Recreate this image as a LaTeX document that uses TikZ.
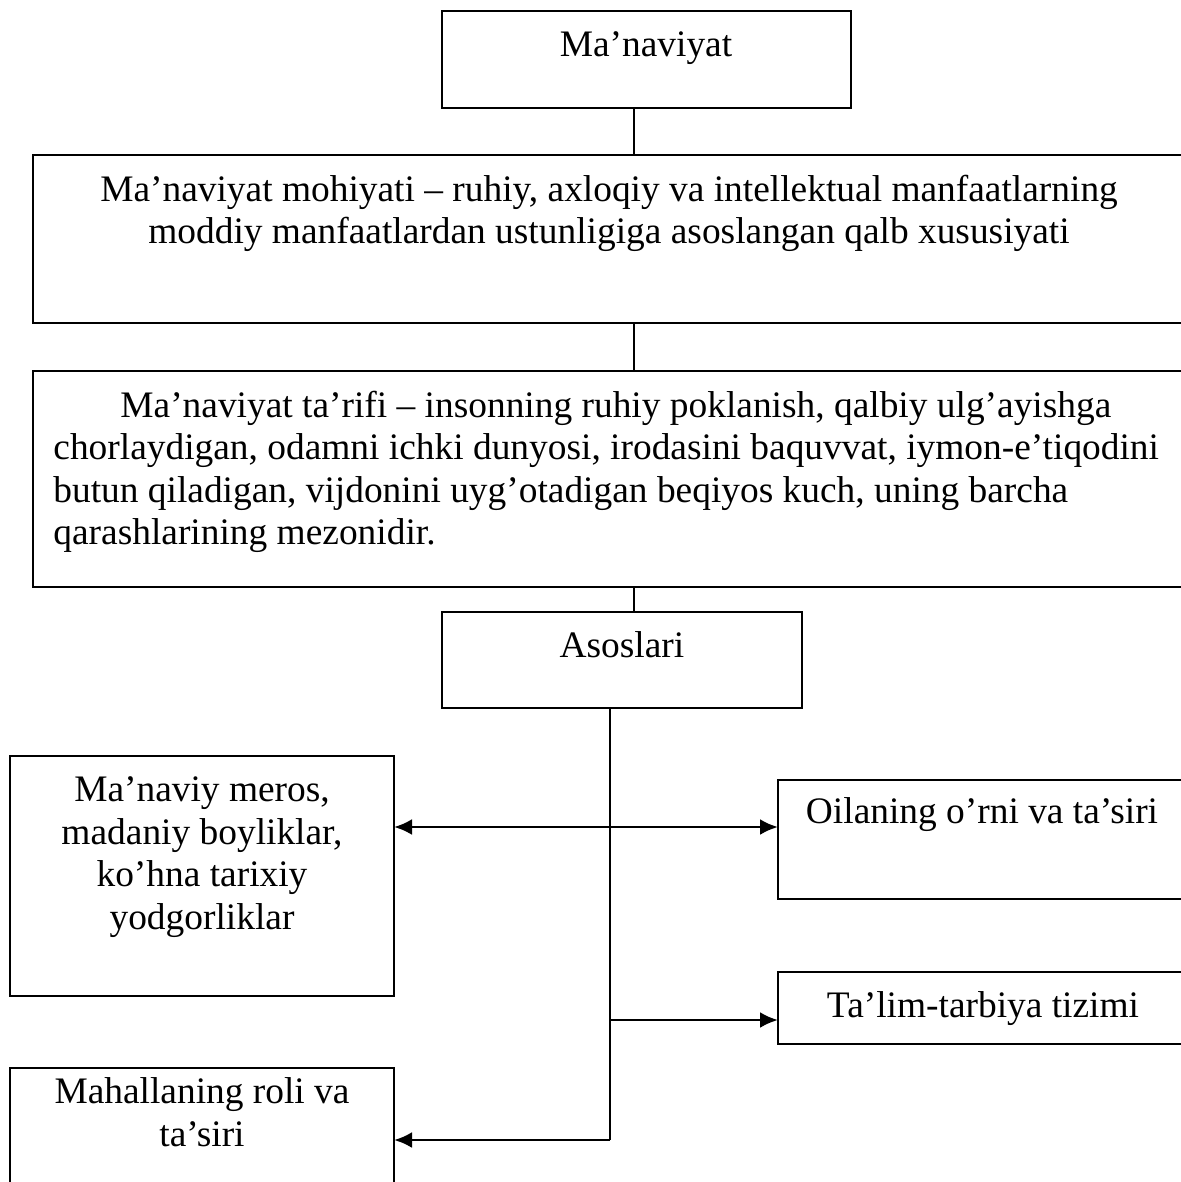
\documentclass[tikz,border=0pt]{standalone}
\usepackage{fontspec}
\setmainfont{Liberation Serif}
\usetikzlibrary{positioning,arrows.meta,calc}

\begin{document}
\begin{tikzpicture}[x=0.5pt,y=-0.5pt,
		box/.style={draw,line width=1pt,inner sep=0,outer sep=0,anchor=north west},
		txt/.style={inner sep=0,font=\fontsize{18.7}{21.25}\selectfont},
		con/.style={line width=0.8pt},
		arr/.style={line width=1.4pt,-{Latex[length=9pt,width=8pt]}},
		darr/.style={line width=1.4pt,{Latex[length=9pt,width=8pt]}-{Latex[length=9pt,width=8pt]}}]
		\useasboundingbox (0,0) rectangle (1181,1182);
		%boxes
		\node[box,minimum width=204.5pt,minimum height=48.5pt] (man) at (442,11) {};
		\node[box,minimum width=576pt,minimum height=84pt] (moh) at (33,155) {};
		\node[box,minimum width=576pt,minimum height=108pt] (tar) at (33,371) {};
		\node[box,minimum width=180pt,minimum height=48pt] (aso) at (442,612) {};
		\node[box,minimum width=192pt,minimum height=120pt] (mer) at (10,756) {};
		\node[box,minimum width=205pt,minimum height=59.5pt] (oil) at (778,780) {};
		\node[box,minimum width=205pt,minimum height=36pt] (tal) at (778,972) {};
		\node[box,minimum width=192pt,minimum height=70pt] (mah) at (10,1068) {};
		%texts
		\node[txt,anchor=base] (t-man) at (646,57) {Ma’naviyat};
		\node[txt,anchor=north,align=center] (t-moh) at (609,174.5) {Ma’naviyat mohiyati – ruhiy, axloqiy va intellektual manfaatlarning\\moddiy manfaatlardan ustunligiga asoslangan qalb xususiyati};
		\node[txt,anchor=north west,align=left] (t-tar) at (53,390.5) {\hspace*{33.5pt}Ma’naviyat ta’rifi – insonning ruhiy poklanish, qalbiy ulg’ayishga\\chorlaydigan, odamni ichki dunyosi, irodasini baquvvat, iymon-e’tiqodini\\butun qiladigan, vijdonini uyg’otadigan beqiyos kuch, uning barcha\\qarashlarining mezonidir.};
		\node[txt,anchor=base] (t-aso) at (622,657) {Asoslari};
		\node[txt,anchor=north,align=center] (t-mer) at (202,776.5) {Ma’naviy meros,\\madaniy boyliklar,\\ko’hna tarixiy\\yodgorliklar};
		\node[txt,anchor=base] (t-oil) at (982,823) {Oilaning o’rni va ta’siri};
		\node[txt,anchor=base] (t-tal) at (983,1017) {Ta’lim-tarbiya tizimi};
		\node[txt,anchor=north,align=center] (t-mah) at (202,1077.5) {Mahallaning roli va\\ta’siri};
		%connectors
		\draw[con] ([xshift=-6.25pt]man.south) -- ([xshift=-6.25pt]man.south |- moh.north);
		\draw[con] ([xshift=6pt]aso.north) -- ([xshift=6pt]aso.north |- tar.south);
		\draw[con] ([xshift=6pt]aso.north |- moh.south) -- ([xshift=6pt]aso.north |- tar.north);
		\coordinate (j) at ([xshift=-6pt]aso.south);
		\coordinate (dm) at (610,827);
		\coordinate (bt) at (610,1020);
		\coordinate (bm) at (610,1140);
		\draw[con] (j) -- (bm);
		\draw[darr] (dm -| mer.east) -- (dm -| oil.west);
		\draw[arr] (bt) -- (bt -| tal.west);
		\draw[arr] (bm) -- (bm -| mah.east);
	\end{tikzpicture}
\end{document}
